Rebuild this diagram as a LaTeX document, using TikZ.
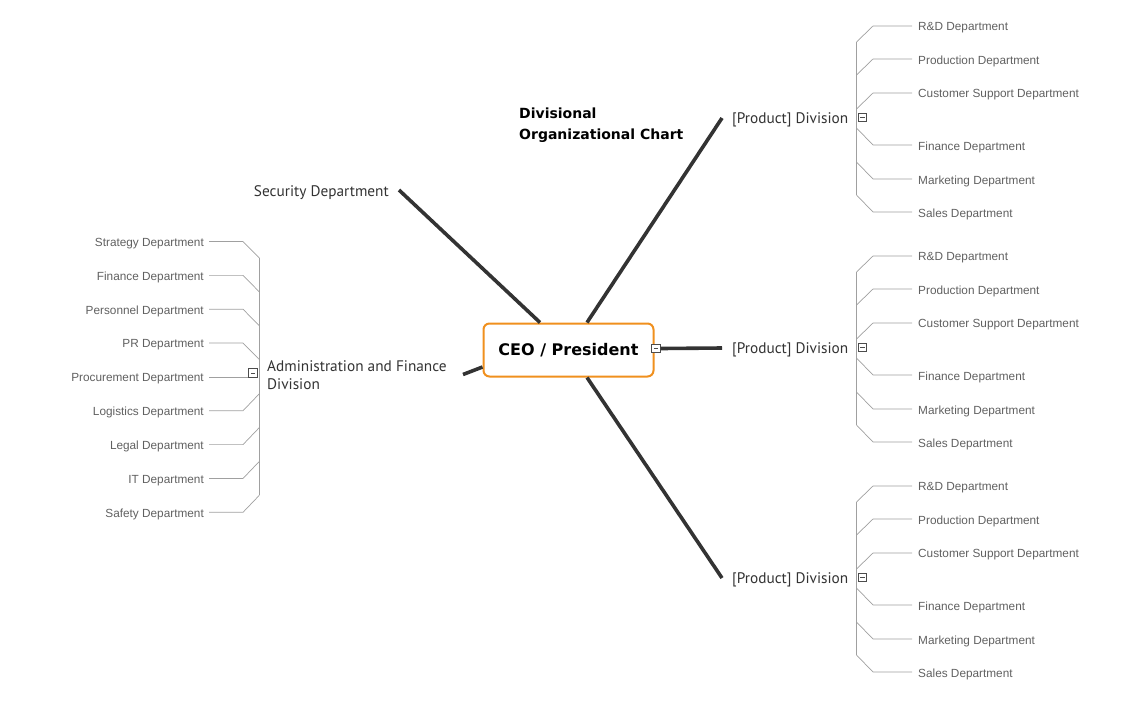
\documentclass[tikz,border=0pt]{standalone}
\usepackage{fontspec}
\setmainfont{Liberation Sans}
\newfontfamily\divfont{PT Sans}
\newfontfamily\boldfont{DejaVu Sans}
\definecolor{deptgray}{HTML}{606060}
\definecolor{linegray}{HTML}{A0A0A0}
\definecolor{mainline}{HTML}{333333}
\definecolor{ceoorange}{HTML}{F0901E}
\begin{document}
\begin{tikzpicture}[x=1pt,y=-1pt,
  dept/.style={font=\fontsize{11.8}{14}\selectfont, text=deptgray, inner sep=0pt},
  divlabel/.style={font=\divfont\fontsize{15.3}{18}\selectfont, text=mainline, inner sep=0pt, align=left},
  twig/.style={draw=linegray, line width=0.7pt},
  trunk/.style={draw=mainline, line width=3.6pt},
  minusbox/.style={draw=black!70, fill=white, line width=0.7pt, minimum size=8.5pt, inner sep=0pt,
    path picture={\draw[line width=0.7pt] ([xshift=2pt]path picture bounding box.west) -- ([xshift=-2pt]path picture bounding box.east);}},
  ceobox/.style={draw=ceoorange, line width=2pt, rounded corners=6pt, fill=white, minimum width=170pt, minimum height=53pt,
    font=\boldfont\bfseries\fontsize{16}{19}\selectfont}
]
\useasboundingbox (0,0) rectangle (1129,705);

% title
\node[anchor=west, inner sep=0pt, align=left, font=\boldfont\bfseries\fontsize{14}{21}\selectfont] (title) at (519,125) {Divisional\\Organizational Chart};

% CEO
\node[ceobox] (ceo) at (568.5,350) {CEO / President};
\node[minusbox] (mceo) at (656,348.5) {};

% right divisions
\foreach \c/\n in {118/a,348/b,578/c} {
  \node[divlabel, anchor=west] (div\n) at (732,\c+2) {[Product] Division};
  \node[minusbox] (m\n) at (862.5,\c-0.5) {};
  \foreach \o/\t [count=\i] in {-92/R\&D Department,-59/Production Department,-25/Customer Support Department,27/Finance Department,61/Marketing Department,94/Sales Department} {
    \pgfmathsetmacro{\e}{\o<0 ? \c+\o+16 : \c+\o-17}
    \node[dept, anchor=west] (d\n\i) at (918,\c+\o+2) {\t};
    \coordinate (b\n\i) at (856.5,\e);
    \draw[twig] ([xshift=-6pt,yshift=2pt]d\n\i.west) -- ++(-39,0) -- (b\n\i);
  }
  \draw[twig] (b\n1) -- (b\n6);
}

% security
\node[divlabel, anchor=east] (sec) at (389,193) {Security Department};

% admin division
\node[divlabel, anchor=west] (adm) at (267,375) {Administration and Finance\\Division};
\node[minusbox] (madm) at (253,373) {};
\foreach \t [count=\i] in {Strategy Department,Finance Department,Personnel Department,PR Department,Procurement Department,Logistics Department,Legal Department,IT Department,Safety Department} {
  \pgfmathsetmacro{\y}{241.5+33.85*(\i-1)}
  \pgfmathsetmacro{\e}{\i<5 ? \y+16.5 : \y-17}
  \node[dept, anchor=east] (l\i) at (204,\y+2) {\t};
  \coordinate (lb\i) at (259.3,\e);
  \coordinate (lh\i) at (243,\y);
}
\foreach \i in {1,2,3,4,6,7,8,9} {
  \draw[twig] ([xshift=5pt]l\i.east |- lh\i) -- (lh\i) -- (lb\i);
}
\draw[twig] ([xshift=5pt]l5.east |- lh5) -- (lh5 -| madm.west);
\draw[twig] (lb1) -- (lb9);

% trunks
\coordinate (admEnd) at (463,374.5);
\coordinate (secEnd) at (399,190);
\draw[trunk] (mceo.east) -- ([xshift=-10pt,yshift=2pt]divb.west);
\draw[trunk] ([xshift=18.5pt]ceo.north) -- ([xshift=-10pt,yshift=2pt]diva.west);
\draw[trunk] ([xshift=18.5pt]ceo.south) -- ([xshift=-10pt,yshift=2pt]divc.west);
\draw[trunk] ([xshift=-28.5pt]ceo.north) -- (secEnd);
\draw[trunk] ([yshift=-17pt]ceo.west) -- (admEnd);
\end{tikzpicture}
\end{document}
